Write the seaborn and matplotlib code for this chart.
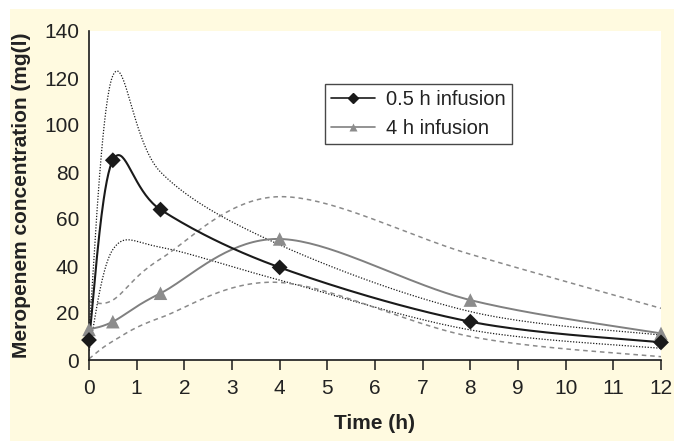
import numpy as np
import pandas as pd
import seaborn as sns
import matplotlib.pyplot as plt
from matplotlib.patches import Rectangle
from matplotlib.lines import Line2D

# sampling times (h)
times = [0, 0.5, 1.5, 4, 8, 12]

# mean concentrations
conc_05h = [8.5, 85, 64, 39.4, 16.3, 7.5]
conc_4h = [13, 16.3, 28.4, 51.5, 25.5, 11.3]

# range lines
upper_05h = [12, 121, 80, 49, 20.6, 10.6]
lower_05h = [4, 47, 48, 34, 12.8, 5]
upper_4h = [25, 25.5, 43, 69.5, 45, 22]
lower_4h = [0.5, 8, 18, 33, 10, 1.4]

labels = ["0.5 h infusion", "4 h infusion"]
xticks = list(range(0, 13))
yticks = list(range(0, 141, 20))


def smooth(x, y, n=40):
    # excel-like smoothed line (catmull-rom bezier through the points)
    p = np.column_stack([x, y]).astype(float)
    p = np.vstack([p[0], p, p[-1]])
    out = []
    t = np.linspace(0, 1, n)[:, None]
    for i in range(1, len(p) - 2):
        b0 = p[i]
        b3 = p[i + 1]
        b1 = b0 + (p[i + 1] - p[i - 1]) / 6
        b2 = b3 - (p[i + 2] - p[i]) / 6
        seg = ((1 - t) ** 3) * b0 + 3 * ((1 - t) ** 2) * t * b1 \
            + 3 * (1 - t) * t ** 2 * b2 + t ** 3 * b3
        out.append(seg)
    out = np.vstack(out)
    return pd.DataFrame({"x": out[:, 0], "y": out[:, 1]})


sns.set_theme(style="white")
plt.rcParams["font.family"] = ["Liberation Sans", "DejaVu Sans"]

fig = plt.figure(figsize=(6.74, 4.41), dpi=100, facecolor="white")
bg = Rectangle((10 / 674, 0), 1 - 10 / 674, 1 - 9 / 441,
               transform=fig.transFigure, facecolor="#fffae0",
               edgecolor="none", zorder=-10)
fig.add_artist(bg)
ax = fig.add_axes([89 / 674, 81 / 441, 572 / 674, 329 / 441])
ax.set_facecolor("white")

black = "#1a1a1a"
gray = "#8a8a8a"

# range lines
for vals in [upper_05h, lower_05h]:
    d = smooth(times, vals)
    sns.lineplot(data=d, x="x", y="y", sort=False, ax=ax, color=black,
                 lw=0.9, linestyle=(0, (1, 1.3)), estimator=None)
for vals in [upper_4h, lower_4h]:
    d = smooth(times, vals)
    sns.lineplot(data=d, x="x", y="y", sort=False, ax=ax, color=gray,
                 lw=1.1, linestyle=(0, (3, 2.5)), estimator=None)

# mean lines
d = smooth(times, conc_4h)
sns.lineplot(data=d, x="x", y="y", sort=False, ax=ax, color="#808080",
             lw=1.4, estimator=None)
sns.scatterplot(x=times, y=conc_4h, ax=ax, marker="^", s=95,
                color="#8c8c8c", edgecolor="none", zorder=5, clip_on=False)
d = smooth(times, conc_05h)
sns.lineplot(data=d, x="x", y="y", sort=False, ax=ax, color=black,
             lw=1.5, estimator=None)
sns.scatterplot(x=times, y=conc_05h, ax=ax, marker="D", s=65,
                color=black, edgecolor="none", zorder=6, clip_on=False)

ax.set_xlim(0, 12)
ax.set_ylim(0, 140)
ax.set_xticks(xticks)
ax.set_yticks(yticks)
ax.tick_params(axis="x", direction="out", length=7, width=1.1,
               color=black, labelsize=15, pad=7, bottom=True,
               labelcolor="#222222")
ax.tick_params(axis="y", length=0, labelsize=15, pad=7,
               labelcolor="#222222")
for s in ["top", "right"]:
    ax.spines[s].set_visible(False)
for s in ["left", "bottom"]:
    ax.spines[s].set_color(black)
    ax.spines[s].set_linewidth(1.2)

ax.set_xlabel("Time (h)", fontsize=15, fontweight="bold", labelpad=11,
              color="#222222")
ax.set_ylabel("Meropenem concentration (mg(l)", fontsize=15,
              fontweight="bold", color="#222222")
ax.yaxis.set_label_coords(-58 / 572, 0.5)

handles = [Line2D([], [], color=black, lw=1.2, marker="D", markersize=5),
           Line2D([], [], color="#808080", lw=1.2, marker="^",
                  markersize=6, markerfacecolor="#8c8c8c",
                  markeredgecolor="none")]
leg = ax.legend(handles, labels, loc="upper left",
                bbox_to_anchor=((325 - 89) / 572, (360 - 84) / 329),
                borderaxespad=0, fontsize=14.5, frameon=True, fancybox=False,
                handlelength=2.2, handletextpad=0.55, borderpad=0.3,
                labelspacing=0.5, handleheight=0.8)
leg.get_frame().set_edgecolor(black)
leg.get_frame().set_linewidth(1.0)
for txt in leg.get_texts():
    txt.set_color("#222222")

fig.savefig("out.png", dpi=100, facecolor=fig.get_facecolor())
